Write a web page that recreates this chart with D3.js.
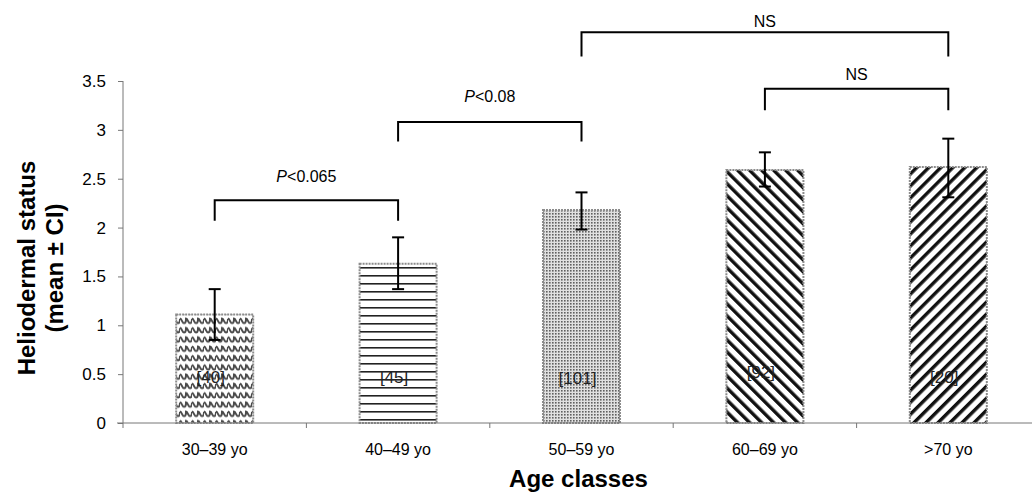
<!DOCTYPE html>
<html>
<head>
<meta charset="utf-8">
<script src="https://cdn.jsdelivr.net/npm/d3@7/dist/d3.min.js"></script>
<style>
  body { margin: 0; background: #fff; }
  text { font-family: "Liberation Sans", Arial, sans-serif; fill: #000; }
</style>
</head>
<body>
<div id="chart"></div>
<script>
// data
var categories = ["30\u201339 yo", "40\u201349 yo", "50\u201359 yo", "60\u201369 yo", ">70 yo"];
var means = [1.11, 1.63, 2.18, 2.59, 2.62];
var ciLow = [0.85, 1.37, 1.98, 2.42, 2.31];
var ciHigh = [1.37, 1.90, 2.36, 2.77, 2.91];
var counts = ["[40]", "[45]", "[101]", "[92]", "[20]"];
var countY = [0.47, 0.47, 0.46, 0.52, 0.47];
var patterns = ["wave", "hlines", "dots", "diagDown", "diagUp"];
var yTicks = [0, 0.5, 1, 1.5, 2, 2.5, 3, 3.5];

// significance brackets
var brFrom = [0, 1, 2, 3];
var brTo = [1, 2, 4, 4];
var brTop = [2.28, 3.08, 4.0, 3.42];
var brBottom = [2.07, 2.88, 3.75, 3.2];
var brLabelY = [2.47, 3.28, 4.05, 3.51];
var brLabel = [["P", "<0.065"], ["P", "<0.08"], ["", "NS"], ["", "NS"]];

var W = 1032, H = 497;

var svg = d3.select("#chart").append("svg")
    .attr("width", W)
    .attr("height", H);

var x = d3.scaleBand()
    .domain(categories)
    .range([123, 1040])
    .padding(0);

var y = d3.scaleLinear()
    .domain([0, 3.5])
    .range([423, 81]);

var barW = x.bandwidth() * 0.42;
function cx(i) { return x(categories[i]) + x.bandwidth() / 2; }

// fill patterns
var defs = svg.append("defs");

var pw = defs.append("pattern").attr("id", "wave")
    .attr("patternUnits", "userSpaceOnUse").attr("width", 12).attr("height", 9.3);
pw.append("rect").attr("width", 12).attr("height", 9.3).attr("fill", "#fff");
pw.append("path")
    .attr("d", "M0,2.5 C2,2.5 2,7 4,7 S6,2.5 6,2.5 C8,2.5 8,7 10,7 S12,2.5 12,2.5")
    .attr("fill", "none").attr("stroke", "#4a4a4a").attr("stroke-width", 2);

var ph = defs.append("pattern").attr("id", "hlines")
    .attr("patternUnits", "userSpaceOnUse").attr("width", 10).attr("height", 8);
ph.append("rect").attr("width", 10).attr("height", 8).attr("fill", "#fff");
ph.append("rect").attr("y", 3).attr("width", 10).attr("height", 1.6).attr("fill", "#222");

var pd = defs.append("pattern").attr("id", "dots")
    .attr("patternUnits", "userSpaceOnUse").attr("width", 3).attr("height", 3);
pd.append("rect").attr("width", 3).attr("height", 3).attr("fill", "#e0e0e0");
pd.append("rect").attr("width", 1.6).attr("height", 1.6).attr("fill", "#606060");

[["diagDown", -45], ["diagUp", 45]].forEach(function(p) {
  var pt = defs.append("pattern").attr("id", p[0])
      .attr("patternUnits", "userSpaceOnUse").attr("width", 8.5).attr("height", 8.5)
      .attr("patternTransform", "rotate(" + p[1] + ")");
  pt.append("rect").attr("width", 8.5).attr("height", 8.5).attr("fill", "#fff");
  pt.append("rect").attr("width", 3.4).attr("height", 8.5).attr("fill", "#111");
});

// bars
svg.selectAll(".bar")
    .data(means)
  .enter().append("rect")
    .attr("class", "bar")
    .attr("x", function(d, i) { return cx(i) - barW / 2; })
    .attr("y", function(d) { return y(d); })
    .attr("width", barW)
    .attr("height", function(d) { return y(0) - y(d); })
    .attr("fill", function(d, i) { return "url(#" + patterns[i] + ")"; })
    .attr("stroke", "#8c8c8c")
    .attr("stroke-width", 2)
    .attr("stroke-dasharray", "2,1");

// n labels
svg.selectAll(".count")
    .data(counts)
  .enter().append("text")
    .attr("class", "count")
    .attr("x", function(d, i) { return cx(i) - 4; })
    .attr("y", function(d, i) { return y(countY[i]); })
    .attr("dy", "0.35em")
    .attr("text-anchor", "middle")
    .style("font-size", "17px")
    .style("fill", "#222")
    .text(function(d) { return d; });

// error bars
var eb = svg.selectAll(".err")
    .data(means)
  .enter().append("g")
    .attr("class", "err")
    .attr("stroke", "#000")
    .attr("stroke-width", 2);
eb.append("line")
    .attr("x1", function(d, i) { return cx(i); })
    .attr("x2", function(d, i) { return cx(i); })
    .attr("y1", function(d, i) { return y(ciLow[i]); })
    .attr("y2", function(d, i) { return y(ciHigh[i]); });
eb.append("line")
    .attr("x1", function(d, i) { return cx(i) - 6; })
    .attr("x2", function(d, i) { return cx(i) + 6; })
    .attr("y1", function(d, i) { return y(ciHigh[i]); })
    .attr("y2", function(d, i) { return y(ciHigh[i]); });
eb.append("line")
    .attr("x1", function(d, i) { return cx(i) - 6; })
    .attr("x2", function(d, i) { return cx(i) + 6; })
    .attr("y1", function(d, i) { return y(ciLow[i]); })
    .attr("y2", function(d, i) { return y(ciLow[i]); });

// y axis
var yAxis = svg.append("g")
    .attr("transform", "translate(123,0)")
    .call(d3.axisLeft(y).tickValues(yTicks).tickSize(5).tickPadding(12)
      .tickFormat(function(d) { return d; }));
yAxis.select(".domain").attr("stroke", "#777").attr("d", "M0," + y(3.5) + "V" + y(0));
yAxis.selectAll(".tick line").attr("stroke", "#777");
yAxis.selectAll("text").style("font-size", "17px").style("font-family", "Liberation Sans, Arial, sans-serif");

// x axis: line, band boundary ticks, labels
svg.append("line")
    .attr("x1", 117).attr("x2", W)
    .attr("y1", y(0)).attr("y2", y(0))
    .attr("stroke", "#777");
svg.selectAll(".xtick")
    .data(categories)
  .enter().append("line")
    .attr("x1", function(d) { return x(d); })
    .attr("x2", function(d) { return x(d); })
    .attr("y1", y(0)).attr("y2", y(0) + 5)
    .attr("stroke", "#777");
svg.selectAll(".xlab")
    .data(categories)
  .enter().append("text")
    .attr("x", function(d) { return x(d) + x.bandwidth() / 2; })
    .attr("y", y(0) + 32)
    .attr("text-anchor", "middle")
    .style("font-size", "16px")
    .text(function(d) { return d; });

// axis titles
svg.append("text")
    .attr("x", (123 + W) / 2 + 1)
    .attr("y", 487)
    .attr("text-anchor", "middle")
    .style("font-size", "24px")
    .style("font-weight", "bold")
    .text("Age classes");

var yt = svg.append("text")
    .attr("transform", "translate(0,268) rotate(-90)")
    .attr("text-anchor", "middle")
    .style("font-size", "24px")
    .style("font-weight", "bold");
yt.append("tspan").attr("x", 0).attr("y", 35).text("Heliodermal status");
yt.append("tspan").attr("x", 0).attr("y", 63).text("(mean \u00b1 CI)");

// significance brackets
var br = svg.selectAll(".bracket")
    .data(brFrom)
  .enter().append("g")
    .attr("class", "bracket");
br.append("path")
    .attr("d", function(d, i) {
      return "M" + cx(brFrom[i]) + "," + y(brBottom[i]) +
             "V" + y(brTop[i]) +
             "H" + cx(brTo[i]) +
             "V" + y(brBottom[i]);
    })
    .attr("fill", "none")
    .attr("stroke", "#000")
    .attr("stroke-width", 2);
var bt = br.append("text")
    .attr("x", function(d, i) { return (cx(brFrom[i]) + cx(brTo[i])) / 2; })
    .attr("y", function(d, i) { return y(brLabelY[i]); })
    .attr("text-anchor", "middle")
    .style("font-size", "16px");
bt.append("tspan")
    .style("font-style", "italic")
    .text(function(d, i) { return brLabel[i][0]; });
bt.append("tspan")
    .text(function(d, i) { return brLabel[i][1]; });
</script>
</body>
</html>
